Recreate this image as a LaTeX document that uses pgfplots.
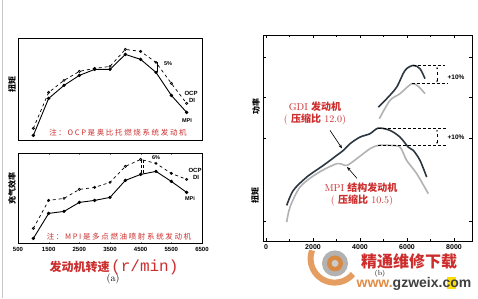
\documentclass[border=0pt]{standalone}
\usepackage{pgfplots}
\pgfplotsset{compat=1.18}
\usepackage{fontspec}
\setsansfont{Liberation Sans}
\setmonofont{Liberation Mono}
\newfontfamily\cjk{Noto Sans CJK SC}
\newfontfamily\cjknote{Noto Sans CJK SC}[LetterSpace=22]
\usetikzlibrary{arrows.meta}
\definecolor{darkc}{RGB}{45,55,65}
\definecolor{grayc}{RGB}{178,178,178}
\definecolor{redc}{RGB}{205,45,45}
\definecolor{wmorange}{RGB}{225,140,70}
\begin{document}
\begin{tikzpicture}
\fill[white] (0pt,0pt) rectangle (478pt,-298pt);
\draw[gray!45,line width=0.8pt] (2pt,0pt) -- (2pt,-298pt);
\pgfplotsset{every axis/.append style={scale only axis, axis line style={line width=0.7pt},
  tick label style={font=\sffamily\bfseries\fontsize{6}{6}\selectfont},
  /pgf/number format/assume math mode=true, /pgf/number format/1000 sep={}}}
% ---------- top left: torque ----------
\begin{axis}[at={(18pt,-38pt)},anchor=north west,width=184pt,height=102pt,
  xmin=500,xmax=6500,ymin=0,ymax=102,xtick=\empty,ytick=\empty]
\addplot[black,line width=0.9pt,mark=*,mark size=1.2pt] coordinates {
(1000,5) (1500,42) (2000,55) (2500,65) (3000,71) (3500,71) (4000,86) (4500,81) (5000,68) (5500,45) (6000,28)};
\addplot[black,dashed,line width=0.7pt,mark=o,mark size=1.1pt,mark options={solid}] coordinates {
(1000,12) (1500,48) (2000,60) (2500,69) (3000,72) (3500,74) (4000,91) (4500,89) (5000,78) (5500,57) (6000,37)};
\end{axis}
% ---------- bottom left: volumetric efficiency ----------
\begin{axis}[at={(18pt,-153pt)},anchor=north west,width=184pt,height=90pt,
  xmin=500,xmax=6500,ymin=0,ymax=90,xtick={500,1500,2500,3500,4500,5500,6500},ytick=\empty,
  major tick length=1.5pt,tick align=inside]
\addplot[black,line width=0.9pt,mark=*,mark size=1.2pt] coordinates {
(1000,5) (1500,30) (2000,32) (2500,41) (3000,43) (3500,46) (4000,63) (4500,69) (5000,72) (5500,62) (6000,51)};
\addplot[black,dashed,line width=0.7pt,mark=o,mark size=1.1pt,mark options={solid}] coordinates {
(1000,15) (1500,43) (2000,45) (2500,54) (3000,56) (3500,61) (4000,77) (4500,84) (5000,80) (5500,70) (6000,64)};
\end{axis}
% ---------- right: power and torque ----------
\begin{axis}[at={(263pt,-35pt)},anchor=north west,width=209pt,height=206pt,
  xmin=-128,xmax=8765,ymin=0,ymax=206,
  xtick={0,2000,4000,6000,8000},minor xtick={1000,3000,5000,7000},
  ytick={20,103,144,184},yticklabels={},
  tick align=inside,major tick length=3pt,minor tick length=2pt,
  tick label style={font=\sffamily\bfseries\fontsize{7}{7}\selectfont},
  xtick style={black}, ytick style={black}]
% power
\addplot[darkc,line width=1.6pt,smooth] coordinates {
(4778,134.3) (5135,142.7) (5561,154.3) (5914,171) (6267,176) (6552,172.7) (6765,162.7)};
\addplot[grayc,line width=1.6pt,smooth] coordinates {
(4821,122.7) (5276,141) (5701,147.7) (6199,157.7) (6480,155) (6765,147.7)};
% torque
\addplot[darkc,line width=1.6pt,smooth] coordinates {
(880,36) (1161,51) (1731,64.3) (2438,76) (3008,86) (3289,91) (3574,97.7) (3999,104.3) (4425,107.7) (4778,113.3) (5276,111) (5701,104.3) (6054,94.3) (6267,91) (6552,81) (6837,64.3)};
\addplot[grayc,line width=1.6pt,smooth] coordinates {
(880,19.3) (1021,34.3) (1446,54.3) (2157,67.7) (3008,77.7) (3433,76) (3859,82.7) (4425,92.7) (4778,96) (5276,96) (5701,94.3) (5986,81) (6412,67.7) (6906,47.7)};
% reference lines
\addplot[black,line width=0.6pt,densely dashed] coordinates {(6267,176) (7616,176)};
\addplot[black,line width=0.6pt,densely dashed] coordinates {(6199,157.7) (7744,157.7)};
\addplot[black,line width=0.6pt,densely dashed] coordinates {(4778,113.3) (7688,113.3)};
\addplot[black,line width=0.6pt,densely dashed] coordinates {(4778,96) (7744,96)};
\addplot[black,line width=0.5pt,dashed,{Stealth[length=2pt]}-{Stealth[length=2pt]}] coordinates {(7276,159) (7276,174.5)};
\addplot[black,line width=0.5pt,dashed,{Stealth[length=2pt]}-{Stealth[length=2pt]}] coordinates {(7276,97.5) (7276,111.8)};
% label arrows
\addplot[black,line width=0.6pt,-{Stealth[length=4pt]}] coordinates {(2723,111) (3233,93)};
\addplot[black,line width=0.6pt,-{Stealth[length=4pt]}] coordinates {(3872,63) (3446,74.5)};
\end{axis}
% ---------- texts ----------
\node[font=\cjk\bfseries\fontsize{8}{8}\selectfont,rotate=90] at (12pt,-84pt) {扭矩};
\node[font=\cjk\bfseries\fontsize{8}{8}\selectfont,rotate=90] at (12pt,-188pt) {充气效率};
\node[font=\cjknote\fontsize{7.5}{8}\selectfont,text=redc] at (118pt,-132pt) {注：OCP是奥比托燃烧系统发动机};
\node[font=\cjknote\fontsize{7.5}{8}\selectfont,text=redc] at (119pt,-236pt) {注：MPI是多点燃油喷射系统发动机};
\node[font=\sffamily\bfseries\fontsize{5.5}{6}\selectfont] at (168pt,-63pt) {5\%};
\draw[black,line width=0.6pt] (157pt,-62pt) -- (157pt,-72pt);
\node[font=\sffamily\bfseries\fontsize{6}{6}\selectfont] at (191pt,-93pt) {OCP};
\node[font=\sffamily\bfseries\fontsize{6}{6}\selectfont] at (192pt,-100pt) {DI};
\node[font=\sffamily\bfseries\fontsize{5.5}{6}\selectfont] at (187pt,-120pt) {MPI};
\node[font=\sffamily\bfseries\fontsize{5.5}{6}\selectfont] at (156pt,-157pt) {6\%};
\draw[black,line width=0.4pt,densely dashed] (141pt,-160pt) -- (141pt,-173pt);
\draw[black,line width=0.4pt,densely dashed] (143pt,-160pt) -- (143pt,-173pt);
\node[font=\sffamily\bfseries\fontsize{6}{6}\selectfont] at (195pt,-170pt) {OCP};
\node[font=\sffamily\bfseries\fontsize{6}{6}\selectfont] at (196pt,-177pt) {DI};
\node[font=\sffamily\bfseries\fontsize{5.5}{6}\selectfont] at (190pt,-198pt) {MPi};
\node[text=redc,inner sep=0pt] at (114pt,-267pt) {{\cjk\bfseries\fontsize{12}{12}\selectfont 发动机转速}\,{\ttfamily\fontsize{16}{16}\selectfont(r/min)}};
\node[font=\fontsize{10}{10}\selectfont] at (113pt,-279pt) {(a)};
% right panel texts
\node[font=\cjk\bfseries\fontsize{8}{8}\selectfont,rotate=90] at (256pt,-106pt) {功率};
\node[font=\cjk\bfseries\fontsize{8}{8}\selectfont,rotate=90] at (255pt,-195pt) {扭矩};
\node[text=redc,inner sep=0pt] at (315pt,-106pt) {\fontsize{10}{10}\selectfont GDI {\cjk\bfseries 发动机}};
\node[text=redc,inner sep=0pt] at (315pt,-119pt) {\fontsize{10}{10}\selectfont ( {\cjk\bfseries 压缩比} 12.0)};
\node[text=redc,inner sep=0pt] at (361pt,-187pt) {\fontsize{10}{10}\selectfont MPI {\cjk\bfseries 结构发动机}};
\node[text=redc,inner sep=0pt] at (362pt,-200pt) {\fontsize{10}{10}\selectfont ( {\cjk\bfseries 压缩比} 10.5)};
\node[font=\sffamily\bfseries\fontsize{6.5}{7}\selectfont] at (456pt,-77pt) {+10\%};
\node[font=\sffamily\bfseries\fontsize{6.5}{7}\selectfont] at (456pt,-137pt) {+10\%};
% watermark
\draw[wmorange,line width=6pt,opacity=0.85] (312pt,-250pt) arc[start angle=160,end angle=320,radius=24pt];
\fill[gray!60] (335pt,-263pt) circle (13pt);
\fill[wmorange!75!brown] (335pt,-263pt) circle (8pt);
\fill[gray!40] (335pt,-263pt) circle (3.5pt);
\node[text=redc,font=\cjk\bfseries\fontsize{16}{16}\selectfont,inner sep=0pt] at (409pt,-261pt) {精通维修下载};
\node[font=\fontsize{7}{7}\selectfont,fill=white,inner sep=0.3pt] at (380pt,-273pt) {(b)};
\fill[yellow!80!orange] (447pt,-277pt) rectangle (456pt,-289pt);
\node[font=\sffamily\bfseries\fontsize{14}{14}\selectfont,inner sep=0pt] at (414pt,-284pt) {\textcolor{wmorange}{www.}\textcolor{darkgray}{gzweix.com}};
\end{tikzpicture}
\end{document}
